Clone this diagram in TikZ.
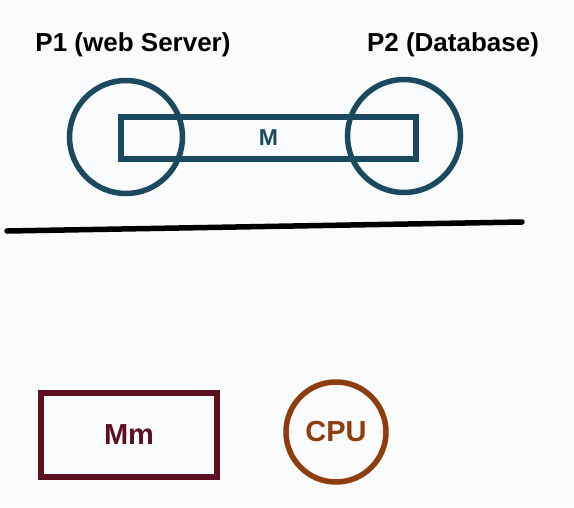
\documentclass[tikz,border=0pt]{standalone}
\usepackage{fontspec}
\setmainfont{Liberation Sans}
\definecolor{bgc}{HTML}{FAFBFD}
\definecolor{teal}{HTML}{1B4A5E}
\definecolor{maroon}{HTML}{5C1020}
\definecolor{brownc}{HTML}{8E3E0C}
\begin{document}
\begin{tikzpicture}[x=1pt,y=-1pt,
  proc/.style={circle,draw=teal,line width=5.5pt,minimum size=113pt,inner sep=0pt},
  lbl/.style={font=\bfseries\fontsize{26}{28}\selectfont,text=black},
  shm/.style={draw=teal,line width=5.5pt,minimum width=295pt,minimum height=42pt,inner sep=0pt,font=\bfseries\fontsize{23}{25}\selectfont,text=teal}]
\fill[bgc] (0,0) rectangle (574,507);
\useasboundingbox (0,0) rectangle (574,507);
\node[proc] (p1) at (126,137) {};
\node[proc] (p2) at (404,136) {};
\node[shm] (m) at (268.5,138) {M};
\node[lbl] (l1) at (133,45) {P1 (web Server)};
\node[lbl] (l2) at (453,45) {P2 (Database)};
\coordinate (a) at (7,231);
\coordinate (b) at (522,222);
\draw[line width=5.5pt,line cap=round] (a) -- (b);
\node[draw=maroon,line width=5.5pt,minimum width=176pt,minimum height=84pt,inner sep=0pt,text=maroon,font=\bfseries\fontsize{29}{31}\selectfont] (mm) at (129,435) {Mm};
\node[circle,draw=brownc,line width=5.5pt,minimum size=100pt,inner sep=0pt,text=brownc,font=\bfseries\fontsize{29}{31}\selectfont] (cpu) at (336,432) {CPU};
\end{tikzpicture}
\end{document}
